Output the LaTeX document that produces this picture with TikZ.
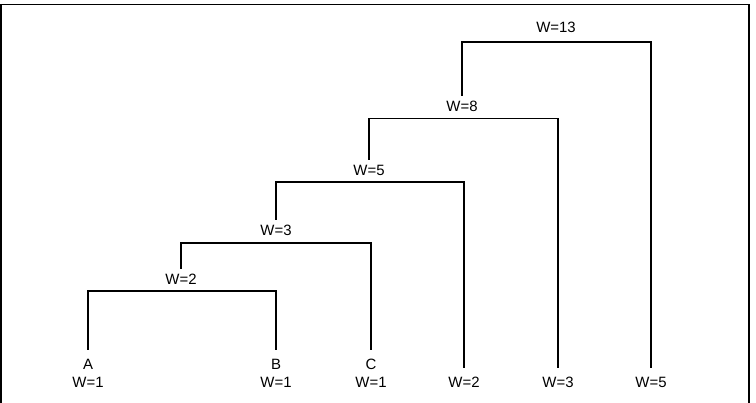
\documentclass[tikz,border=0pt]{standalone}
\usepackage{fontspec}
\setmainfont{Liberation Sans}
\begin{document}
\begin{tikzpicture}[x=1bp,y=-1bp,
  lbl/.style={font=\fontsize{15}{17}\selectfont, inner xsep=1bp, inner ysep=5.5bp},
  leaf/.style={font=\fontsize{15}{17}\selectfont, inner xsep=1bp, inner ysep=9.5bp},
  thk/.style={line width=2bp, line cap=rect},
  thn/.style={line width=1.1bp, line cap=rect}]
\useasboundingbox (0,0) rectangle (756,402);
\clip (0,0) rectangle (756,402);
\draw[line width=1.5bp] (1,4.5) rectangle (749,430);
% leaves
\node[leaf] (la) at (88,364) {A};
\node[lbl]  (wa) at (88,382) {W=1};
\node[leaf] (lb) at (276,364) {B};
\node[lbl]  (wb) at (276,382) {W=1};
\node[leaf] (lc) at (371,364) {C};
\node[lbl]  (wc) at (371,382) {W=1};
\node[leaf] (ld) at (464,382) {W=2};
\node[leaf] (le) at (558,382) {W=3};
\node[leaf] (lf) at (651,382) {W=5};
% internal nodes
\node[lbl] (n2)  at (181,279) {W=2};
\node[lbl] (n3)  at (276,230) {W=3};
\node[lbl] (n5)  at (369,170) {W=5};
\node[lbl] (n8)  at (462,106) {W=8};
\node[lbl] (n13) at (556,27)  {W=13};
\coordinate (b2)  at (181,291);
\coordinate (b3)  at (276,243);
\coordinate (b5)  at (369,182);
\coordinate (b8)  at (462,118.5);
\coordinate (b13) at (556,42);
% brackets
\draw[thk] (la.north) |- (b2) -| (lb.north);
\draw[thk] (n2.north) |- (b3) -- (b3 -| lc.north);
\draw[thn] (b3 -| lc.north) -- (lc.north);
\draw[thn] (n3.north) -- (n3.north |- b5);
\draw[thk] (n3.north |- b5) -- (b5) -| (ld.north);
\draw[thn] (n5.north) |- (b8) -| (le.north);
\draw[thn] (n8.north) -- (n8.north |- b13);
\draw[thk] (n8.north |- b13) -- (b13) -| (lf.north);
\end{tikzpicture}
\end{document}
